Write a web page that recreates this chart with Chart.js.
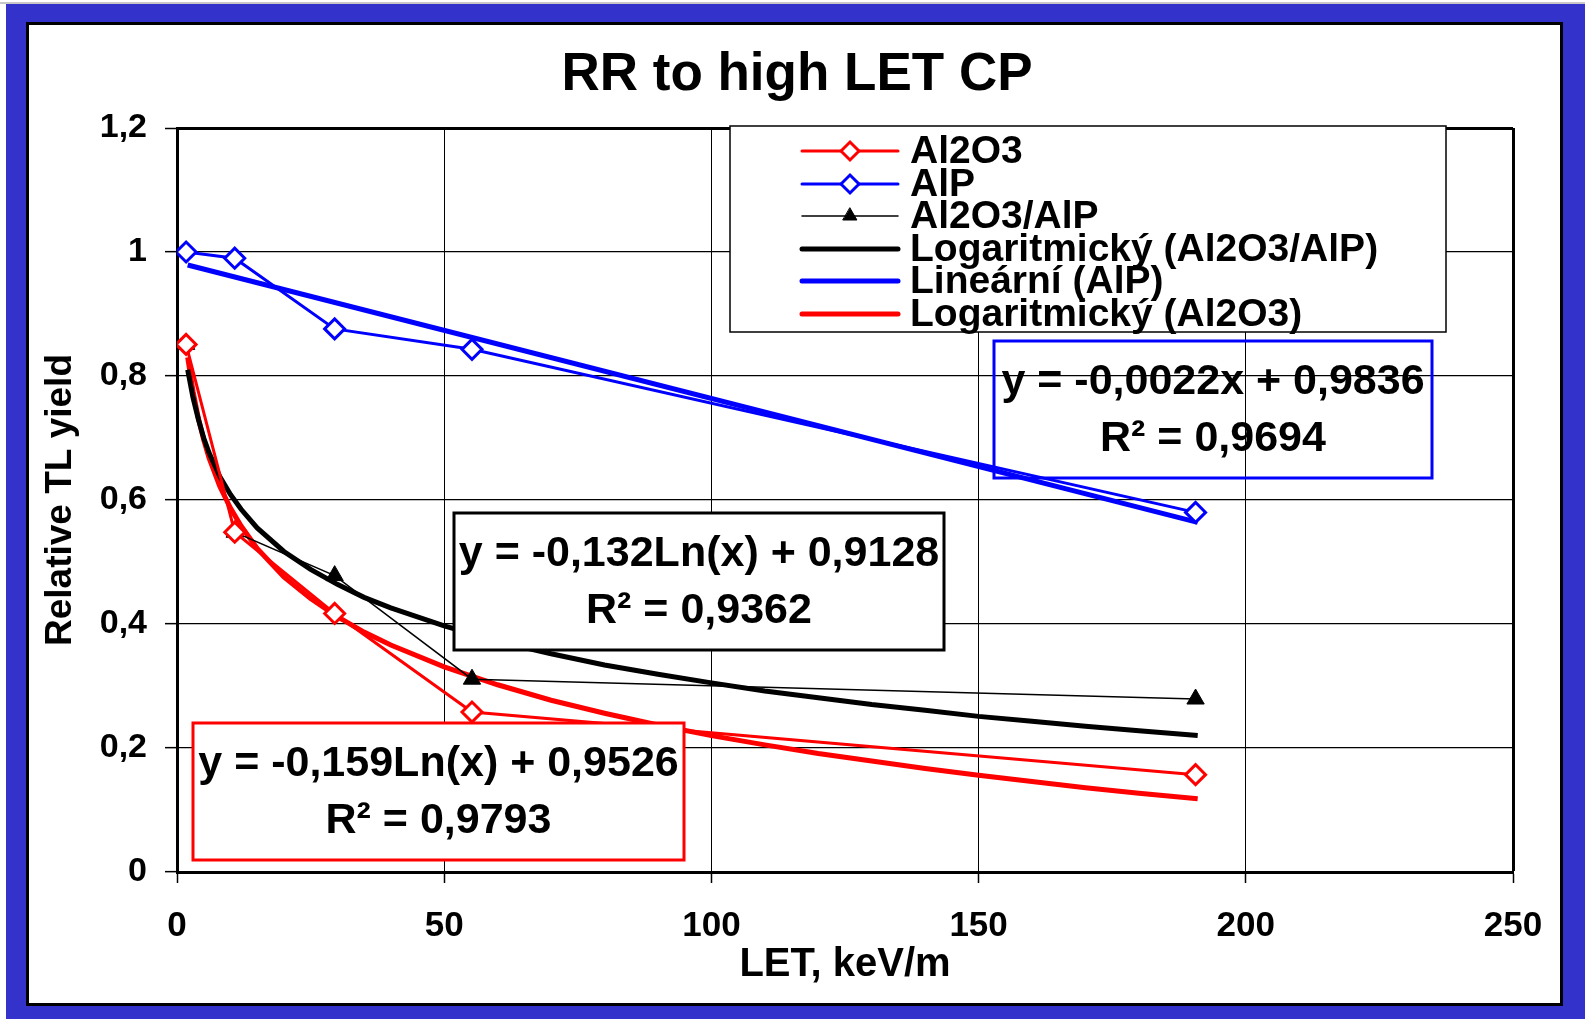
<!DOCTYPE html>
<html>
<head>
<meta charset="utf-8">
<script src="https://cdn.jsdelivr.net/npm/chart.js@4.4.1/dist/chart.umd.min.js"></script>
<style>
  html, body { margin: 0; padding: 0; background: #fff; }
  #wrap { width: 1585px; height: 1019px; }
</style>
</head>
<body>
<div id="wrap"><canvas id="grafico" width="1585" height="1019"></canvas></div>
<script>
// measured points (LET in keV/um, relative TL yield)
const letX = [1.7, 10.8, 29.5, 55.2, 190.6];
const al2o3 = [0.851, 0.548, 0.417, 0.258, 0.157];
const alp = [1.0, 0.99, 0.876, 0.843, 0.58];
const ratio = [0.851, 0.548, 0.478, 0.311, 0.279];

// trendlines
const trendX = [2, 3, 4, 5, 6, 8, 10, 12, 15, 20, 25, 30, 35, 40, 50, 60, 70, 80, 90, 100, 110, 120, 130, 140, 150, 160, 170, 180, 191];
const logRatio = [0.81, 0.765, 0.73, 0.70, 0.676, 0.638, 0.609, 0.585, 0.555, 0.517, 0.488, 0.464, 0.443, 0.426, 0.397, 0.372, 0.352, 0.334, 0.319, 0.305, 0.292, 0.281, 0.27, 0.261, 0.251, 0.243, 0.235, 0.228, 0.22];
const logAl2o3 = [0.83, 0.775, 0.732, 0.697, 0.668, 0.622, 0.587, 0.558, 0.522, 0.476, 0.441, 0.412, 0.387, 0.366, 0.331, 0.302, 0.277, 0.256, 0.237, 0.22, 0.205, 0.191, 0.179, 0.167, 0.156, 0.146, 0.136, 0.127, 0.118];
const linX = [2, 191];
const linAlp = [0.979, 0.564];

const seriesNames = ["Al2O3", "AlP", "Al2O3/AlP", "Logaritmický (Al2O3/AlP)", "Lineární (AlP)", "Logaritmický (Al2O3)"];
const fitTexts = [
  ["y = -0,0022x + 0,9836", "R² = 0,9694"],
  ["y = -0,132Ln(x) + 0,9128", "R² = 0,9362"],
  ["y = -0,159Ln(x) + 0,9526", "R² = 0,9793"]
];

const FONT = "'Liberation Sans', Arial, sans-serif";

function pts(xs, ys) {
  return xs.map((x, i) => ({ x: x, y: ys[i] }));
}

const framePlugin = {
  id: "frame",
  beforeDraw(chart) {
    const ctx = chart.ctx;
    ctx.save();
    ctx.fillStyle = "#ffffff";
    ctx.fillRect(0, 0, 1585, 1019);
    ctx.fillStyle = "#c8c8c8";
    ctx.fillRect(0, 2, 1585, 2);
    ctx.fillStyle = "#3333cc";
    ctx.fillRect(6, 4, 1579, 1015);
    ctx.fillStyle = "#000000";
    ctx.fillRect(26, 22, 1537, 984);
    ctx.fillStyle = "#ffffff";
    ctx.fillRect(29, 25, 1531, 978);
    ctx.restore();
  },
  afterDraw(chart) {
    const ctx = chart.ctx;
    ctx.save();
    // title
    ctx.fillStyle = "#000";
    ctx.font = "bold 53px " + FONT;
    ctx.textAlign = "center";
    ctx.textBaseline = "middle";
    ctx.fillText("RR to high LET CP", 797, 75);

    // fit equation boxes
    const boxes = [
      { x: 994, y: 341, w: 438, h: 137, color: "#0000ff", fill: null, lines: fitTexts[0] },
      { x: 454, y: 513, w: 490, h: 137, color: "#000000", fill: "#ffffff", lines: fitTexts[1] },
      { x: 193, y: 723, w: 491, h: 137, color: "#ff0000", fill: "#ffffff", lines: fitTexts[2] }
    ];
    ctx.font = "bold 43px " + FONT;
    for (const b of boxes) {
      if (b.fill) {
        ctx.fillStyle = b.fill;
        ctx.fillRect(b.x, b.y, b.w, b.h);
      }
      ctx.strokeStyle = b.color;
      ctx.lineWidth = 3;
      ctx.strokeRect(b.x, b.y, b.w, b.h);
      ctx.fillStyle = "#000";
      ctx.fillText(b.lines[0], b.x + b.w / 2, b.y + 41);
      ctx.fillText(b.lines[1], b.x + b.w / 2, b.y + 98);
    }

    // legend
    ctx.fillStyle = "#fff";
    ctx.fillRect(730, 126, 716, 206);
    ctx.strokeStyle = "#000";
    ctx.lineWidth = 1.5;
    ctx.strokeRect(730, 126, 716, 206);
    const rows = [151, 184, 216, 249, 281, 314];
    ctx.font = "bold 39px " + FONT;
    ctx.textAlign = "left";
    chart.data.datasets.forEach((ds, i) => {
      const y = rows[i];
      ctx.strokeStyle = ds.borderColor;
      ctx.lineWidth = ds.borderWidth;
      ctx.lineCap = "round";
      ctx.beginPath();
      ctx.moveTo(802, y);
      ctx.lineTo(898, y);
      ctx.stroke();
      if (ds.pointRadius > 0) {
        ctx.fillStyle = ds.pointBackgroundColor;
        ctx.strokeStyle = ds.pointBorderColor;
        ctx.lineWidth = ds.pointBorderWidth;
        Chart.helpers.drawPoint(ctx, {
          pointStyle: ds.pointStyle,
          radius: ds.pointStyle === "triangle" ? 8 : 9,
          borderWidth: ds.pointBorderWidth,
          rotation: 0
        }, 850, y);
      }
      ctx.fillStyle = "#000";
      ctx.fillText(ds.label, 910, y + 1);
    });
    ctx.restore();
  }
};

const chart = new Chart(document.getElementById("grafico"), {
  type: "scatter",
  data: {
    datasets: [
      {
        label: seriesNames[0],
        data: pts(letX, al2o3),
        showLine: true,
        borderColor: "#ff0000",
        borderWidth: 3,
        pointStyle: "rectRot",
        pointRadius: 10,
        pointBackgroundColor: "#ffffff",
        pointBorderColor: "#ff0000",
        pointBorderWidth: 3
      },
      {
        label: seriesNames[1],
        data: pts(letX, alp),
        showLine: true,
        borderColor: "#0000ff",
        borderWidth: 3,
        pointStyle: "rectRot",
        pointRadius: 10,
        pointBackgroundColor: "#ffffff",
        pointBorderColor: "#0000ff",
        pointBorderWidth: 3
      },
      {
        label: seriesNames[2],
        data: pts(letX, ratio),
        showLine: true,
        borderColor: "#000000",
        borderWidth: 1.5,
        pointStyle: "triangle",
        pointRadius: 10,
        pointBackgroundColor: "#000000",
        pointBorderColor: "#000000",
        pointBorderWidth: 1
      },
      {
        label: seriesNames[3],
        data: pts(trendX, logRatio),
        showLine: true,
        borderColor: "#000000",
        borderWidth: 5,
        pointRadius: 0
      },
      {
        label: seriesNames[4],
        data: pts(linX, linAlp),
        showLine: true,
        borderColor: "#0000ff",
        borderWidth: 5,
        pointRadius: 0
      },
      {
        label: seriesNames[5],
        data: pts(trendX, logAl2o3),
        showLine: true,
        borderColor: "#ff0000",
        borderWidth: 5,
        pointRadius: 0
      }
    ]
  },
  options: {
    responsive: false,
    animation: false,
    events: [],
    layout: { padding: { top: 128, left: 35, right: 72, bottom: 26 } },
    plugins: {
      legend: { display: false },
      title: { display: false },
      tooltip: { enabled: false }
    },
    scales: {
      x: {
        type: "linear",
        min: 0,
        max: 250,
        ticks: {
          stepSize: 50,
          color: "#000",
          padding: 22,
          font: { family: FONT, size: 35, weight: "bold" }
        },
        grid: {
          color: "#000",
          lineWidth: (c) => (c.tick && c.tick.value === 250 ? 3 : 1),
          tickLength: 11,
          tickWidth: 1.5,
          tickColor: "#000"
        },
        border: { display: true, color: "#000", width: 3 },
        title: {
          display: true,
          text: "LET, keV/m",
          color: "#000",
          padding: { top: 4, bottom: 4 },
          font: { family: FONT, size: 40, weight: "bold" }
        },
        afterFit: (scale) => {
          scale.height = 121;
          scale.paddingLeft = 0;
          scale.paddingRight = 0;
        }
      },
      y: {
        min: 0,
        max: 1.2,
        ticks: {
          stepSize: 0.2,
          color: "#000",
          padding: 18,
          font: { family: FONT, size: 34, weight: "bold" },
          callback: (v) => String(Number(v.toFixed(1))).replace(".", ",")
        },
        grid: {
          color: "#000",
          lineWidth: (c) => (c.tick && Math.abs(c.tick.value - 1.2) < 1e-6 ? 3 : 1.3),
          tickLength: 12,
          tickWidth: 1.5,
          tickColor: "#000"
        },
        border: { display: true, color: "#000", width: 3 },
        title: {
          display: true,
          text: "Relative TL yield",
          color: "#000",
          padding: { top: 4, bottom: 4 },
          font: { family: FONT, size: 37, weight: "bold" }
        },
        afterFit: (scale) => {
          scale.width = 142;
          scale.paddingTop = 0;
          scale.paddingBottom = 0;
        }
      }
    }
  },
  plugins: [framePlugin]
});
</script>
</body>
</html>
